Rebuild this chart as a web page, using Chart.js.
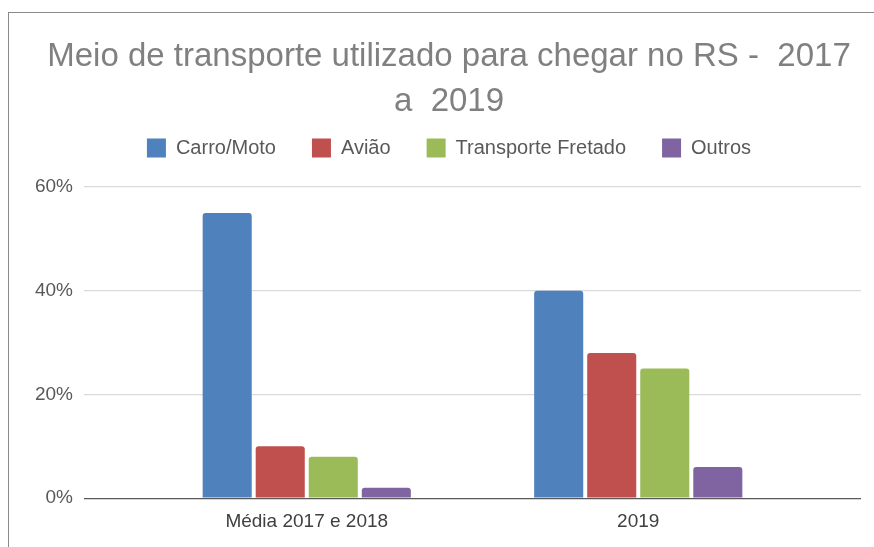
<!DOCTYPE html>
<html lang="pt">
<head>
    <meta charset="UTF-8">
    <title>Meio de transporte</title>
    <script src="https://cdn.jsdelivr.net/npm/chart.js"></script>
    <style>
        html, body {
            margin: 0;
            padding: 0;
            background: #fff;
            overflow: hidden;
        }
        .wrap {
            position: relative;
            width: 874px;
            height: 547px;
        }
        .frame {
            position: absolute;
            left: 8px;
            top: 12px;
            width: 900px;
            height: 600px;
            border: 1px solid #8a8a8a;
            pointer-events: none;
        }
    </style>
</head>
<body>
    <div class="wrap">
        <canvas id="transporteChart"></canvas>
        <div class="frame"></div>
    </div>
    <script>
        const categories = ['Média 2017 e 2018', '2019'];
        const seriesNames = ['Carro/Moto', 'Avião', 'Transporte Fretado', 'Outros'];
        const carroMoto = [55, 40];
        const aviao = [10, 28];
        const fretado = [8, 25];
        const outros = [2, 6];
        const yTicks = [0, 20, 40, 60];

        const colors = ['#4f81bd', '#c0504d', '#9bbb59', '#8064a2'];
        const values = [carroMoto, aviao, fretado, outros];
        const font = "'Liberation Sans', Arial, sans-serif";

        // 0% line is the dark axis line, others light grid
        const gridColor = ctx => (ctx.tick && ctx.tick.value === 0) ? '#595959' : '#d9d9d9';

        const datasets = seriesNames.map((name, i) => ({
            label: name,
            data: values[i],
            backgroundColor: colors[i],
            borderWidth: 0,
            borderRadius: 3,
            barPercentage: 0.925,
            categoryPercentage: 0.64
        }));

        const transporteChart = new Chart(document.getElementById('transporteChart'), {
            type: 'bar',
            data: {
                labels: categories,
                datasets: datasets
            },
            options: {
                responsive: true,
                maintainAspectRatio: false,
                animation: false,
                devicePixelRatio: 1,
                layout: {
                    padding: { left: 24, right: 0, top: 0, bottom: 2 }
                },
                plugins: {
                    title: {
                        display: true,
                        text: ['Meio de transporte utilizado para chegar no RS -  2017', 'a  2019'],
                        color: '#808080',
                        font: { family: font, size: 33, weight: 'normal', lineHeight: 45 / 33 },
                        padding: { top: 34, bottom: -22 }
                    },
                    legend: {
                        position: 'top',
                        labels: {
                            boxWidth: 19,
                            boxHeight: 19,
                            padding: 36,
                            color: '#595959',
                            font: { family: font, size: 20 }
                        }
                    },
                    tooltip: { enabled: false }
                },
                scales: {
                    x: {
                        grid: { display: false, drawTicks: false },
                        border: { display: false },
                        ticks: {
                            color: '#404040',
                            padding: 12,
                            font: { family: font, size: 19 }
                        }
                    },
                    // spacer between legend and plot
                    gap: {
                        type: 'category',
                        position: 'top',
                        grid: { display: false },
                        border: { display: false },
                        ticks: { display: false },
                        afterFit: s => { s.height = 19; }
                    },
                    y: {
                        min: 0,
                        max: 60,
                        afterBuildTicks: s => { s.ticks = yTicks.map(v => ({ value: v })); },
                        afterFit: s => { s.width = 117; },
                        grid: {
                            color: gridColor,
                            lineWidth: 1.3,
                            tickLength: 57
                        },
                        border: { display: false },
                        ticks: {
                            color: '#595959',
                            padding: 11,
                            font: { family: font, size: 19 },
                            callback: v => v + '%'
                        }
                    },
                    y2: {
                        position: 'right',
                        min: 0,
                        max: 60,
                        afterBuildTicks: s => { s.ticks = yTicks.map(v => ({ value: v })); },
                        afterFit: s => { s.width = 70; },
                        grid: {
                            color: gridColor,
                            lineWidth: 1.3,
                            tickLength: 57,
                            drawOnChartArea: false
                        },
                        border: { display: false },
                        ticks: { display: false }
                    }
                }
            }
        });
    </script>
</body>
</html>
